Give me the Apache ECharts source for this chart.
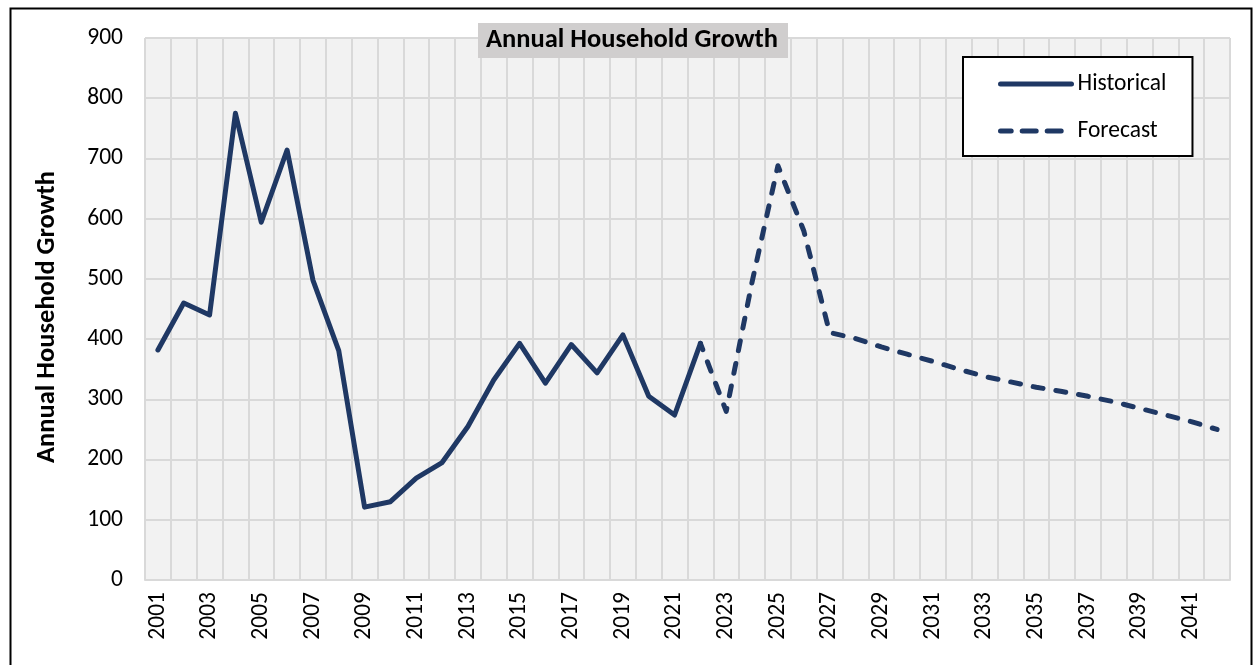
<!DOCTYPE html>
<html>
<head>
<meta charset="utf-8">
<script src="https://cdn.jsdelivr.net/npm/echarts@6/dist/echarts.min.js"></script>
<style>
html,body{margin:0;padding:0;background:#fff;}
#chart{width:1254px;height:665px;}
</style>
</head>
<body>
<div id="chart"></div>
<script>
const years = ['2001','2002','2003','2004','2005','2006','2007','2008','2009','2010','2011','2012','2013','2014','2015','2016','2017','2018','2019','2020','2021','2022','2023','2024','2025','2026','2027','2028','2029','2030','2031','2032','2033','2034','2035','2036','2037','2038','2039','2040','2041','2042'];
const historical = [382,460,440,775,594,714,498,381,121,130,169,195,255,332,393,327,391,344,407,305,274,393];
const forecastStartYear = '2022';
const forecast = [393,280,495,688,580,411,401,387,375,363,350,338,329,320,313,305,296,285,274,263,250];
const titleText = 'Annual Household Growth';
const yAxisName = 'Annual Household Growth';

const startIdx = years.indexOf(forecastStartYear);
const forecastFull = years.map((y, i) => i < startIdx ? null : forecast[i - startIdx]);
const historicalFull = years.map((y, i) => i < historical.length ? historical[i] : null);

const FONT = 'Carlito, Lato, "Open Sans", sans-serif';
const NAVY = '#1f3864';
const GRID = '#d9d9d9';

const chart = echarts.init(document.getElementById('chart'));
chart.setOption({
  animation: false,
  backgroundColor: '#ffffff',
  textStyle: {fontFamily: FONT},
  title: {
    text: titleText,
    left: 478, top: 23,
    padding: [4, 10, 4, 8],
    backgroundColor: '#d0cece',
    textStyle: {fontFamily: FONT, fontWeight: 'bold', fontSize: 26.5, color: '#000'}
  },
  legend: {
    orient: 'vertical',
    left: 963, top: 57,
    padding: [15, 26, 13, 35],
    itemGap: 23,
    itemWidth: 71, itemHeight: 14,
    backgroundColor: '#ffffff',
    borderColor: '#000', borderWidth: 2,
    itemStyle: {color: 'transparent', borderWidth: 0, opacity: 0},
    lineStyle: {width: 5, cap: 'round'},
    textStyle: {fontFamily: FONT, fontSize: 23.5, color: '#000', padding: [0,0,0,1]},
    data: [
      {name: 'Historical'},
      {name: 'Forecast', lineStyle: {width: 5, type: [14, 11], cap: 'round'}}
    ]
  },
  grid: {left: 145, right: 24, top: 38, bottom: 85, containLabel: false,
         show: true, backgroundColor: '#f2f2f2', borderWidth: 0},
  xAxis: {
    type: 'category',
    data: years,
    boundaryGap: true,
    axisLine: {show: true, lineStyle: {color: GRID, width: 2}},
    axisTick: {show: false},
    axisLabel: {interval: 1, rotate: 90, margin: 12, fontFamily: FONT, fontSize: 23.5, color: '#000'},
    splitLine: {show: true, interval: 0, lineStyle: {color: GRID, width: 2}}
  },
  yAxis: {
    type: 'value',
    min: 0, max: 900, interval: 100,
    name: yAxisName,
    nameLocation: 'middle',
    nameGap: 84,
    nameTextStyle: {fontFamily: FONT, fontWeight: 'bold', fontSize: 26.5, color: '#000', padding: [0, 16, 0, 0]},
    axisLine: {show: false},
    axisTick: {show: false},
    axisLabel: {margin: 22, fontFamily: FONT, fontSize: 23.5, color: '#000'},
    splitLine: {show: true, lineStyle: {color: GRID, width: 2}}
  },
  series: [
    {
      name: 'Historical', type: 'line', data: historicalFull,
      symbol: 'none', connectNulls: false,
      lineStyle: {color: NAVY, width: 5, cap: 'round', join: 'round'},
      itemStyle: {color: NAVY},
      z: 3
    },
    {
      name: 'Forecast', type: 'line', data: forecastFull,
      symbol: 'none', connectNulls: false,
      lineStyle: {color: NAVY, width: 5, type: [10, 13], dashOffset: 3.3, cap: 'round', join: 'round'},
      itemStyle: {color: NAVY},
      z: 2
    }
  ],
  graphic: [
    {type: 'rect', left: 8, top: 6, shape: {width: 1241, height: 700},
     style: {fill: 'none', stroke: '#000', lineWidth: 2}, silent: true, z: 100}
  ]
});
</script>
</body>
</html>
